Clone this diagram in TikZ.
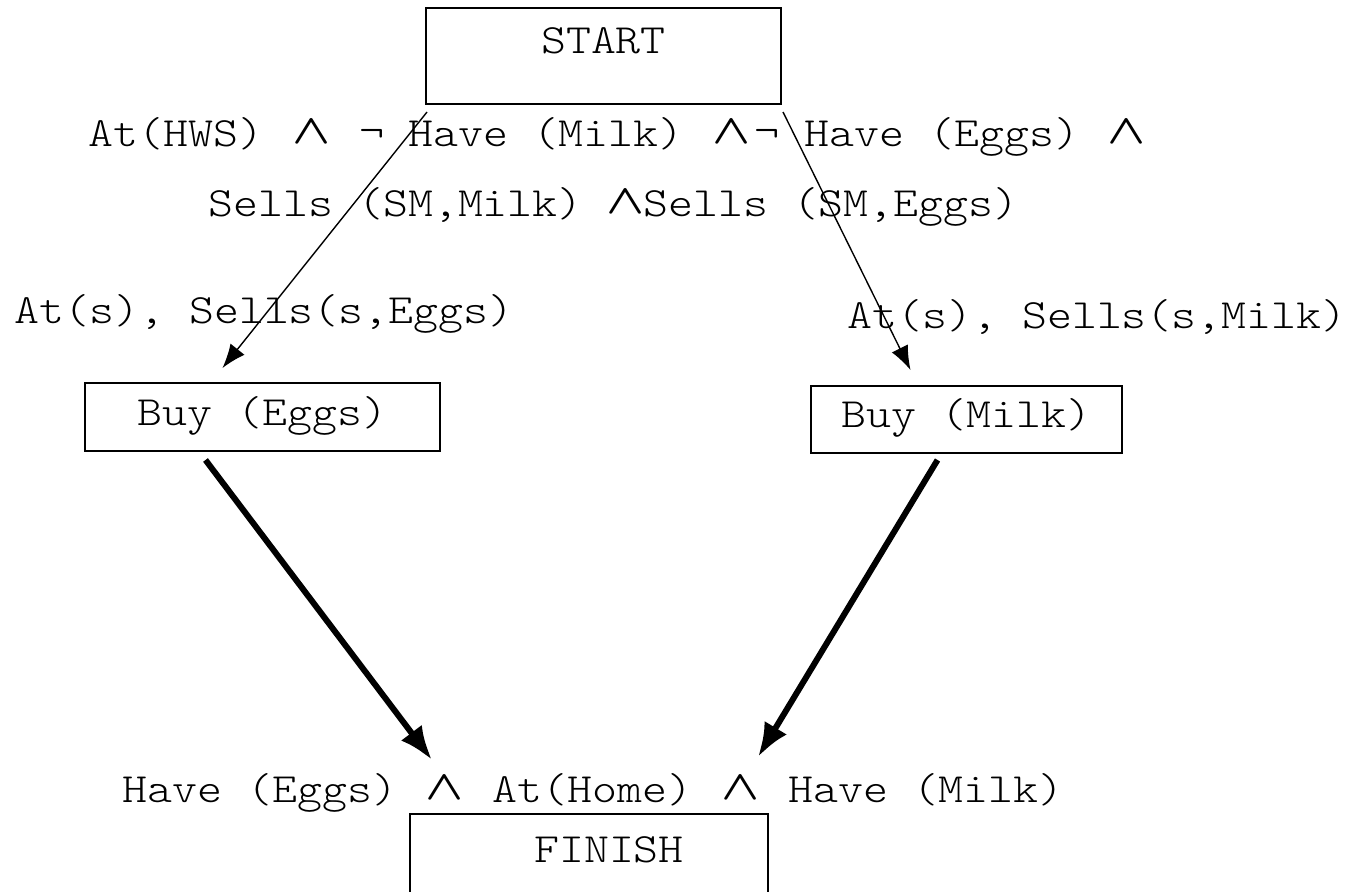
\documentclass[tikz,border=0pt]{standalone}
\usepackage{fontspec}
\setmonofont[FakeStretch=1.1429]{lmmonolt10-regular.otf}
\usetikzlibrary{arrows.meta,calc}
% logical "and", set in a box of given width
\newcommand{\andsym}[1][23pt]{\makebox[#1]{\raisebox{1.5pt}{\scalebox{1.2}[1.0]{\boldmath$\wedge$}}}}

\begin{document}
\begin{tikzpicture}[x=0.5pt,y=-0.5pt,
  every node/.style={font=\ttfamily\fontsize{20.8}{25}\selectfont, inner sep=0pt},
  box/.style={draw, line width=1pt, anchor=north, align=center},
  cond/.style={anchor=base west},
  thin arrow/.style={line width=0.7pt, -{Latex[length=12pt,width=9pt]}},
  thick arrow/.style={line width=3pt, -{Latex[length=17pt,width=13pt]}}]

  % page frame
  \clip (0,0) rectangle (1369,892);

  % action boxes
  \node[box, minimum width=177.5pt, text height=23pt, text depth=25pt]
    (start) at (603.5,7) {START};
  \node[box, minimum width=177.5pt, text height=21.5pt, text depth=12.5pt]
    (buyeggs) at (262.5,382) {Buy (Eggs)};
  \node[box, minimum width=155.5pt, text height=21pt, text depth=12.5pt]
    (buymilk) at (966.5,385) {Buy (Milk)};
  \node[box, minimum width=179pt, text height=24pt, text depth=40pt]
    (finish) at (589,813) {\hspace{20pt}FINISH};

  % effects of START
  \node[cond] (init1) at (88,147)
    {At(HWS) \andsym{} ¬ Have (Milk) \andsym¬ Have (Eggs) \andsym};
  \node[cond] (init2) at (208,217)
    {Sells (SM,Milk) \andsym[18pt]Sells (SM,Eggs)};

  % preconditions of the buy actions
  \node[cond] (preeggs) at (14,324) {At(s), Sells(s,Eggs)};
  \node[cond] (premilk) at (847,329) {At(s), Sells(s,Milk)};

  % goal
  \node[cond] (goal) at (122,802)
    {Have (Eggs) \andsym{} At(Home) \andsym{} Have (Milk)};

  % arrow end points
  \coordinate (s1) at ($(start.south west)+(2,7)$);
  \coordinate (s2) at ($(start.south east)+(1,7)$);
  \coordinate (e1) at ($(buyeggs.north)+(-40,-14)$);
  \coordinate (m1) at ($(buymilk.north)+(-56,-15)$);
  \coordinate (e2) at ($(buyeggs.south)+(-57,8)$);
  \coordinate (m2) at ($(buymilk.south)+(-29,6)$);
  \coordinate (g1) at ($(goal.base west)+(310,-42)$);
  \coordinate (g2) at ($(goal.base west)+(636,-45)$);

  % causal links
  \draw[thin arrow] (s1) -- (e1);
  \draw[thin arrow] (s2) -- (m1);
  \draw[thick arrow] (e2) -- (g1);
  \draw[thick arrow] (m2) -- (g2);
\end{tikzpicture}
\end{document}
